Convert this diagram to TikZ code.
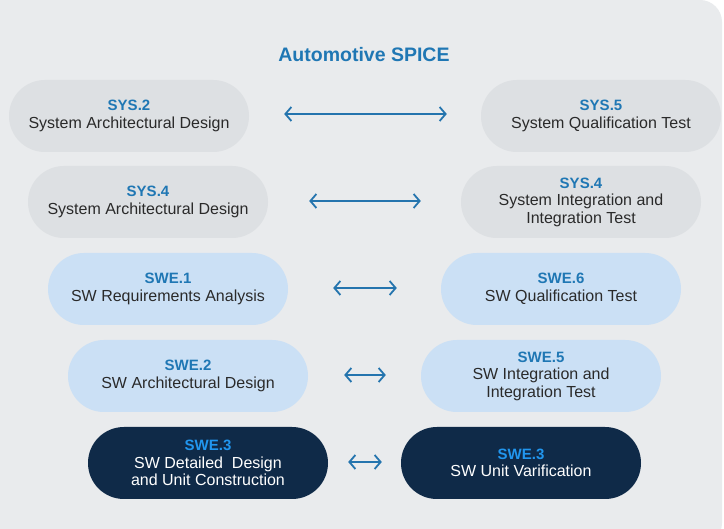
\documentclass[tikz,border=0pt]{standalone}
\usepackage{fontspec}
\setmainfont{Liberation Sans}
\usetikzlibrary{arrows.meta}

\definecolor{cardbg}{HTML}{E9EBED}
\definecolor{sysfill}{HTML}{DDE0E3}
\definecolor{swefill}{HTML}{CBE0F5}
\definecolor{unitfill}{HTML}{0F2A48}
\definecolor{labelblue}{HTML}{1F77B4}
\definecolor{labelbright}{HTML}{2196EE}
\definecolor{bodytext}{HTML}{2A2A2A}
\definecolor{linkblue}{HTML}{2474AE}

\tikzset{
  pill/.style={rectangle, rounded corners=35.9pt, minimum width=240pt,
    minimum height=72pt, inner sep=0pt, align=center,
    font=\fontsize{16}{17.5}\selectfont},
  syspill/.style={pill, fill=sysfill, text=bodytext},
  swepill/.style={pill, fill=swefill, text=bodytext},
  unitpill/.style={pill, fill=unitfill, text=white},
  link/.style={linkblue, line width=1.8pt,
    {Straight Barb[length=6pt,width=14pt]}-{Straight Barb[length=6pt,width=14pt]}},
}
\newcommand{\procid}[1]{{\color{labelblue}\fontsize{15}{17.5}\selectfont\bfseries #1}}
\newcommand{\procidlight}[1]{{\color{labelbright}\fontsize{15}{17.5}\selectfont\bfseries #1}}

\begin{document}
\begin{tikzpicture}[x=1pt,y=-1pt]
\useasboundingbox (0,0) rectangle (724,529);
\fill[white] (0,0) rectangle (724,529);
\fill[cardbg, rounded corners=22pt] (-40,0) rectangle (722,545);

\node[text=labelblue, font=\fontsize{19.5}{22}\selectfont\bfseries] (title) at (364,55) {Automotive SPICE};

% system level
\node[syspill] (sys2) at (129,116) {\procid{SYS.2}\\System Architectural Design};
\node[syspill] (sys5) at (601,116) {\procid{SYS.5}\\System Qualification Test};
\node[syspill] (sys3) at (148,202) {\procid{SYS.4}\\System Architectural Design};
\node[syspill] (sys4) at (581,202) {\procid{SYS.4}\\System Integration and\\Integration Test};

% software level
\node[swepill] (swe1) at (168,289) {\procid{SWE.1}\\SW Requirements Analysis};
\node[swepill] (swe6) at (561,289) {\procid{SWE.6}\\SW Qualification Test};
\node[swepill] (swe2) at (188,376) {\procid{SWE.2}\\SW Architectural Design};
\node[swepill] (swe5) at (541,376) {\procid{SWE.5}\\SW Integration and\\Integration Test};

% unit level
\node[unitpill] (swe3a) at (208,463) {\procidlight{SWE.3}\\SW Detailed\ \ Design\\and Unit Construction};
\node[unitpill] (swe3b) at (521,463) {\procidlight{SWE.3}\\SW Unit Varification};

% correspondence arrows
\draw[link, shorten <=35pt, shorten >=34pt] ([yshift=2pt]sys2.east) -- ([yshift=2pt]sys5.west);
\draw[link, shorten <=41pt, shorten >=40pt] ([yshift=1pt]sys3.east) -- ([yshift=1pt]sys4.west);
\draw[link, shorten <=45pt, shorten >=44pt] ([yshift=1pt]swe1.east) -- ([yshift=1pt]swe6.west);
\draw[link, shorten <=36pt, shorten >=35pt] ([yshift=1pt]swe2.east) -- ([yshift=1pt]swe5.west);
\draw[link, shorten <=20pt, shorten >=19pt] ([yshift=1pt]swe3a.east) -- ([yshift=1pt]swe3b.west);
\end{tikzpicture}
\end{document}
